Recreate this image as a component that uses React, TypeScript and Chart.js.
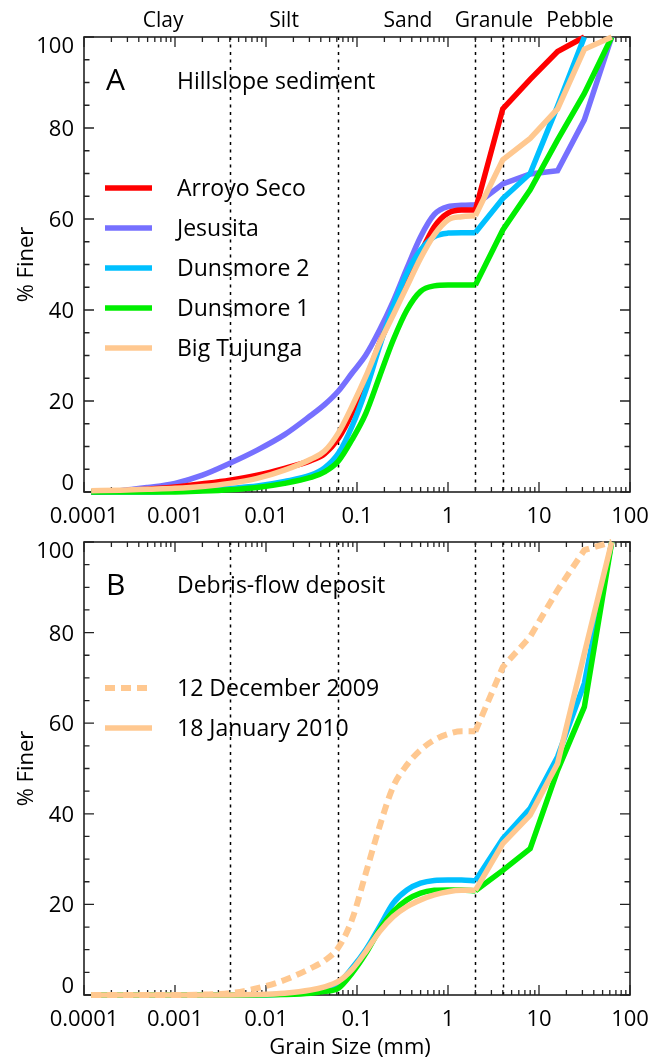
import React, { useEffect, useRef } from 'react';
import { Chart, registerables } from 'chart.js';

Chart.register(...registerables);

// ---------- DATA ----------
// sieve / pipette grain sizes (mm); sizes up to 2 mm form the smooth part of each curve
const grainSizes = [0.00012, 0.00025, 0.0005, 0.001, 0.002, 0.004, 0.008, 0.016, 0.031, 0.044, 0.0625, 0.088, 0.125, 0.177, 0.25, 0.354, 0.5, 0.707, 1, 1.41, 2, 4, 8, 16, 31.5, 63];
const smoothUpTo = 2; // mm

// Panel A: hillslope sediment (% finer)
const arroyoSeco = [0, 0.2, 0.6, 1.1, 1.8, 2.6, 3.7, 5.2, 6.9, 8.4, 11.8, 17.3, 24.6, 32.7, 39.3, 45.9, 52.5, 58.3, 61.3, 62.0, 62.0, 84.2, 90.7, 96.8, 100, null];
const jesusita = [0, 0.3, 1.0, 1.9, 3.7, 6.3, 9.2, 12.6, 16.8, 19.2, 22.2, 26.1, 30.1, 35.6, 41.9, 49.2, 56.1, 61.0, 62.7, 63.0, 63.1, 67.7, 69.9, 70.6, 81.8, 100];
const dunsmore2A = [0, 0, 0, 0.2, 0.4, 0.8, 1.3, 2.3, 3.7, 5.3, 8.5, 14.4, 22.4, 32.0, 40.8, 48.1, 53.2, 56.1, 56.9, 57.0, 57.0, 64.5, 70.0, 84.8, 100, null];
const dunsmore1A = [0, 0, 0, 0, 0.2, 0.5, 1.0, 1.9, 3.2, 4.4, 6.8, 11.5, 17.3, 25.4, 33.4, 40.0, 44.1, 45.3, 45.5, 45.5, 45.5, 57.6, 66.4, 77.4, 87.6, 100];
const bigTujungaA = [0.3, 0.4, 0.6, 0.8, 1.2, 1.9, 3.0, 4.8, 7.2, 9.0, 13.0, 18.8, 25.4, 32.7, 38.9, 45.2, 51.4, 56.5, 59.8, 60.5, 60.7, 73.0, 77.7, 84.2, 97.3, 100];

// Panel B: debris-flow deposit (% finer)
const dec2009 = [0, 0, 0, 0, 0.1, 0.4, 1.5, 3.3, 5.9, 7.6, 10.5, 16.6, 26.9, 37.2, 46.0, 50.8, 54.1, 56.3, 57.6, 58.2, 58.2, 72.4, 79.1, 89.4, 98.2, 100];
const jan2010 = [0, 0, 0, 0, 0, 0, 0.1, 0.4, 1.1, 1.8, 3.0, 5.6, 9.6, 14.0, 17.3, 19.5, 21.0, 22.1, 22.8, 23.1, 23.1, 33.4, 39.7, 51.1, 75.4, 100];
const dunsmore2B = [0, 0, 0, 0, 0, 0, 0, 0.2, 0.6, 1.2, 2.6, 5.9, 10.0, 15.1, 20.3, 23.2, 24.7, 25.3, 25.4, 25.4, 25.2, 34.5, 41.2, 52.6, 68.8, 100];
const dunsmore1B = [0, 0, 0, 0, 0, 0, 0, 0.1, 0.4, 0.8, 1.5, 4.8, 9.2, 14.4, 18.4, 21.0, 22.5, 23.1, 23.2, 23.2, 23.0, 27.5, 32.3, 49.6, 63.6, 100];

// Axis ticks / labels
const xTickValues = [0.0001, 0.001, 0.01, 0.1, 1, 10, 100];
const xTickLabels = ['0.0001', '0.001', '0.01', '0.1', '1', '10', '100'];
const yTickValues = [0, 20, 40, 60, 80, 100];
const classBoundaries = [0.004, 0.0625, 2, 4];
const classNames = ['Clay', 'Silt', 'Sand', 'Granule', 'Pebble'];
const classLabelAt = [0.00074, 0.0158, 0.363, 3.2, 28.2];

// Colours
const RED = '#ff0000';
const PURPLE = '#7670ff';
const BLUE = '#00c0ff';
const GREEN = '#00ee00';
const ORANGE = '#ffc890';

const FONT = '"Open Sans", "DejaVu Sans", sans-serif';
const LW = 5.5;
const DASH = [10, 6];

function toPoints(values: (number | null)[], lowPart: boolean) {
  const pts: { x: number; y: number }[] = [];
  values.forEach((v, i) => {
    const g = grainSizes[i];
    const keep = lowPart ? g <= smoothUpTo : g >= smoothUpTo;
    if (keep && v !== null && v !== undefined) pts.push({ x: g, y: v });
  });
  return pts;
}

// each sample becomes a smooth (<= 2 mm) and a straight (>= 2 mm) piece
function series(label: string, values: (number | null)[], color: string, order: number, dash?: number[]) {
  const common = {
    label,
    borderColor: color,
    backgroundColor: color,
    borderWidth: dash ? 6 : LW,
    borderDash: dash || [],
    pointRadius: 0,
    fill: false,
    order,
    clip: false as any,
  };
  return [
    { ...common, data: toPoints(values, true), cubicInterpolationMode: 'monotone' as const, tension: 0.4 },
    { ...common, data: toPoints(values, false), tension: 0 },
  ];
}

type LegendItem = { label: string; color: string; dash?: number[] };

type PanelCfg = {
  letter: string;
  title: string;
  legend: LegendItem[];
  legendY0: number;
  letterBaseline: number;
  titleBaseline: number;
  showClasses: boolean;
  showXTitle: boolean;
};

function makePlugin(cfg: PanelCfg) {
  return {
    id: 'panelDecor',
    beforeDatasetsDraw(chart: any) {
      const { ctx, chartArea: a, scales } = chart;
      const x = scales.x;
      const y = scales.y;
      ctx.save();
      // dotted class boundaries
      ctx.strokeStyle = '#000';
      ctx.lineWidth = 1.5;
      ctx.setLineDash([3, 4.5]);
      classBoundaries.forEach((b) => {
        const px = Math.round(x.getPixelForValue(b)) + 0.5;
        ctx.beginPath();
        ctx.moveTo(px, a.top);
        ctx.lineTo(px, a.bottom);
        ctx.stroke();
      });
      ctx.setLineDash([]);
      // frame
      ctx.strokeStyle = '#222';
      ctx.lineWidth = 1.6;
      ctx.strokeRect(a.left, a.top, a.right - a.left, a.bottom - a.top);
      // x ticks (inward, top & bottom)
      ctx.lineWidth = 1.3;
      for (let d = -4; d <= 2; d++) {
        for (let m = 1; m <= 9; m++) {
          const v = m * Math.pow(10, d);
          if (v > 100.0001) break;
          const px = x.getPixelForValue(v);
          const len = m === 1 ? 10 : 5;
          ctx.beginPath();
          ctx.moveTo(px, a.bottom);
          ctx.lineTo(px, a.bottom - len);
          ctx.moveTo(px, a.top);
          ctx.lineTo(px, a.top + len);
          ctx.stroke();
        }
      }
      // y ticks (inward, left & right)
      for (let v = 0; v <= 100; v += 5) {
        const py = y.getPixelForValue(v);
        const len = v % 20 === 0 ? 10 : 5.5;
        ctx.beginPath();
        ctx.moveTo(a.left, py);
        ctx.lineTo(a.left + len, py);
        ctx.moveTo(a.right, py);
        ctx.lineTo(a.right - len, py);
        ctx.stroke();
      }
      ctx.restore();
    },
    afterDraw(chart: any) {
      const { ctx, chartArea: a, scales } = chart;
      const x = scales.x;
      const y = scales.y;
      ctx.save();
      ctx.fillStyle = '#000';
      // y tick labels
      ctx.font = `22px ${FONT}`;
      ctx.textAlign = 'right';
      ctx.textBaseline = 'alphabetic';
      yTickValues.forEach((v) => {
        let cy = y.getPixelForValue(v);
        if (v === 100) cy += 8;
        if (v === 0) cy -= 10;
        ctx.fillText(String(v), a.left - 10, cy + 8);
      });
      // x tick labels
      ctx.textAlign = 'center';
      xTickValues.forEach((v, i) => {
        ctx.fillText(xTickLabels[i], x.getPixelForValue(v), a.bottom + 31);
      });
      // y title
      ctx.save();
      ctx.translate(33, (a.top + a.bottom) / 2);
      ctx.rotate(-Math.PI / 2);
      ctx.textAlign = 'center';
      ctx.fillText('% Finer', 0, 0);
      ctx.restore();
      // x title
      if (cfg.showXTitle) {
        ctx.textAlign = 'center';
        ctx.fillText('Grain Size (mm)', 350, a.bottom + 59);
      }
      // class labels
      if (cfg.showClasses) {
        ctx.font = `21px ${FONT}`;
        ctx.textAlign = 'center';
        classNames.forEach((n, i) => {
          ctx.fillText(n, x.getPixelForValue(classLabelAt[i]), 27);
        });
      }
      // panel letter & title
      ctx.textAlign = 'left';
      ctx.font = `30px ${FONT}`;
      ctx.fillText(cfg.letter, 106, cfg.letterBaseline);
      ctx.font = `23px ${FONT}`;
      ctx.fillText(cfg.title, 177, cfg.titleBaseline);
      // legend
      cfg.legend.forEach((item, i) => {
        const ly = cfg.legendY0 + i * 40;
        ctx.strokeStyle = item.color;
        ctx.lineWidth = item.dash ? 6 : LW;
        ctx.setLineDash(item.dash || []);
        ctx.beginPath();
        ctx.moveTo(105, ly);
        ctx.lineTo(152, ly);
        ctx.stroke();
        ctx.setLineDash([]);
        ctx.fillText(item.label, 177, ly + 8.3);
      });
      ctx.restore();
    },
  };
}

function baseOptions(padding: any) {
  return {
    responsive: false,
    animation: false as const,
    layout: { padding },
    plugins: {
      legend: { display: false },
      tooltip: { enabled: false },
      title: { display: false },
    },
    scales: {
      x: { type: 'logarithmic' as const, min: 0.0001, max: 100, display: false },
      y: { type: 'linear' as const, min: 0, max: 100, display: false },
    },
    elements: { point: { radius: 0 } },
  };
}

export default function App() {
  const refA = useRef<HTMLCanvasElement>(null);
  const refB = useRef<HTMLCanvasElement>(null);

  useEffect(() => {
    const chartA = new Chart(refA.current as HTMLCanvasElement, {
      type: 'line',
      data: {
        datasets: [
          ...series('Arroyo Seco', arroyoSeco, RED, 3),
          ...series('Jesusita', jesusita, PURPLE, 4),
          ...series('Dunsmore 2', dunsmore2A, BLUE, 2),
          ...series('Dunsmore 1', dunsmore1A, GREEN, 1),
          ...series('Big Tujunga', bigTujungaA, ORANGE, 0),
        ] as any,
      },
      options: baseOptions({ left: 84, right: 30, top: 37, bottom: 38 }) as any,
      plugins: [
        makePlugin({
          letter: 'A',
          title: 'Hillslope sediment',
          legend: [
            { label: 'Arroyo Seco', color: RED },
            { label: 'Jesusita', color: PURPLE },
            { label: 'Dunsmore 2', color: BLUE },
            { label: 'Dunsmore 1', color: GREEN },
            { label: 'Big Tujunga', color: ORANGE },
          ],
          legendY0: 188,
          letterBaseline: 90,
          titleBaseline: 89,
          showClasses: true,
          showXTitle: false,
        }),
      ],
    });

    const chartB = new Chart(refB.current as HTMLCanvasElement, {
      type: 'line',
      data: {
        datasets: [
          ...series('Dunsmore 2', dunsmore2B, BLUE, 3),
          ...series('Dunsmore 1', dunsmore1B, GREEN, 2),
          ...series('18 January 2010', jan2010, ORANGE, 1),
          ...series('12 December 2009', dec2009, ORANGE, 0, DASH),
        ] as any,
      },
      options: baseOptions({ left: 84, right: 30, top: 12, bottom: 64 }) as any,
      plugins: [
        makePlugin({
          letter: 'B',
          title: 'Debris-flow deposit',
          legend: [
            { label: '12 December 2009', color: ORANGE, dash: DASH },
            { label: '18 January 2010', color: ORANGE },
          ],
          legendY0: 158,
          letterBaseline: 65,
          titleBaseline: 63,
          showClasses: false,
          showXTitle: true,
        }),
      ],
    });

    return () => {
      chartA.destroy();
      chartB.destroy();
    };
  }, []);

  return (
    <div style={{ position: 'absolute', left: 0, top: 0, width: 660, height: 1059, background: '#fff' }}>
      <canvas ref={refA} width={660} height={530} style={{ position: 'absolute', left: 0, top: 0, width: 660, height: 530 }} />
      <canvas ref={refB} width={660} height={529} style={{ position: 'absolute', left: 0, top: 530, width: 660, height: 529 }} />
    </div>
  );
}
